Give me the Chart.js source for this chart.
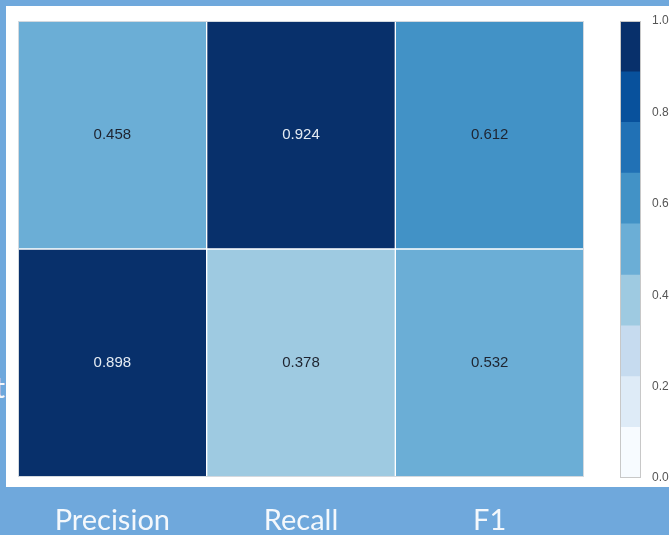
<!DOCTYPE html>
<html>
<head>
<meta charset="utf-8">
<script src="https://cdn.jsdelivr.net/npm/chart.js@4.4.1/dist/chart.umd.min.js"></script>
<style>
  html, body { margin: 0; padding: 0; }
  body { width: 669px; height: 535px; background: #6fa8dc; position: relative; overflow: hidden; }
  #panel { position: absolute; left: 6px; top: 6px; width: 663px; height: 481px; background: #ffffff; }
  #heat { position: absolute; left: 0; top: 0; }
  #cbar { position: absolute; left: 600px; top: 0; }
  #rowTail { position: absolute; right: 664px; top: 372px; color: #f4f8fc;
             font: 29px Lato, "Open Sans", sans-serif; line-height: 1; }
</style>
</head>
<body>
<div id="panel"></div>
<span id="rowTail">t</span>
<canvas id="heat" width="600" height="535"></canvas>
<canvas id="cbar" width="69" height="535"></canvas>
<script>
// Metric names along the bottom
const metrics = ['Precision', 'Recall', 'F1'];
// Scores for the two rows of the matrix (top row first)
const topRow = [0.458, 0.924, 0.612];
const bottomRow = [0.898, 0.378, 0.532];
// Discrete "Blues" palette (9 steps, 0 → 1)
const blues = ['#f7fbff', '#deebf7', '#c6dbef', '#9ecae1', '#6baed6',
               '#4292c6', '#2171b5', '#08519c', '#08306b'];
// Colour-bar step edges and tick labels
const colorbarEdges = [0, 0.111, 0.222, 0.333, 0.444, 0.556, 0.667, 0.778, 0.889, 1.0];
const colorbarTicks = [0.0, 0.2, 0.4, 0.6, 0.8, 1.0];

function colourFor(v) {
  let i = Math.floor(v * blues.length);
  if (i >= blues.length) i = blues.length - 1;
  if (i < 0) i = 0;
  return blues[i];
}

// Each row is one stacked segment of unit height; the score sets its colour
function rowDataset(scores, label) {
  return {
    label: label,
    data: scores.map(() => 1),
    scores: scores,
    backgroundColor: scores.map(colourFor),
    borderColor: '#ffffff',
    borderWidth: 1,
    borderSkipped: false,
    barPercentage: 1,
    categoryPercentage: 1
  };
}

const cellLabels = {
  id: 'cellLabels',
  afterDatasetsDraw(chart) {
    const ctx = chart.ctx;
    ctx.save();
    ctx.font = '15px "Liberation Sans", Arial, sans-serif';
    ctx.textAlign = 'center';
    ctx.textBaseline = 'middle';
    chart.data.datasets.forEach((ds, di) => {
      chart.getDatasetMeta(di).data.forEach((bar, i) => {
        const v = ds.scores[i];
        const p = bar.getProps(['x', 'y', 'base'], true);
        ctx.fillStyle = v > 0.7 ? '#e4ebf3' : '#1e2430';
        ctx.fillText(v.toFixed(3), p.x, (p.y + p.base) / 2);
      });
    });
    ctx.restore();
  }
};

const frame = {
  id: 'frame',
  afterDraw(chart, args, opts) {
    const a = chart.chartArea, ctx = chart.ctx;
    ctx.save();
    ctx.strokeStyle = opts.color || '#cfd6dd';
    ctx.lineWidth = 1;
    ctx.strokeRect(a.left + 0.5, a.top + 0.5, a.right - a.left - 1, a.bottom - a.top - 1);
    ctx.restore();
  }
};

new Chart(document.getElementById('heat'), {
  type: 'bar',
  data: {
    labels: metrics,
    datasets: [rowDataset(bottomRow, 'row 2'), rowDataset(topRow, 'row 1')]
  },
  options: {
    responsive: false,
    animation: false,
    layout: { padding: { left: 18, top: 21, right: 16, bottom: 0 } },
    plugins: { legend: { display: false }, tooltip: { enabled: false }, frame: { color: '#d3d9df' } },
    scales: {
      x: {
        stacked: true,
        grid: { display: false, drawTicks: false },
        border: { display: false },
        ticks: { color: '#f4f8fc', padding: 26, font: { family: 'Lato, "Open Sans", sans-serif', size: 29 } },
        afterFit(scale) { scale.height = 58; }
      },
      y: { stacked: true, min: 0, max: 2, display: false }
    }
  },
  plugins: [cellLabels, frame]
});

// Colour bar: one floating segment per palette step
const cbarSets = blues.map((c, i) => ({
  data: [[colorbarEdges[i], colorbarEdges[i + 1]]],
  backgroundColor: c,
  borderWidth: 0,
  barPercentage: 1,
  categoryPercentage: 1,
  grouped: false
}));

new Chart(document.getElementById('cbar'), {
  type: 'bar',
  data: { labels: [''], datasets: cbarSets },
  options: {
    responsive: false,
    animation: false,
    layout: { padding: { left: 20, top: 21, right: 0, bottom: 57 } },
    plugins: { legend: { display: false }, tooltip: { enabled: false }, frame: { color: '#c8c8c8' } },
    scales: {
      x: { display: false },
      y: {
        position: 'right',
        min: 0, max: 1,
        grid: { display: false, drawTicks: false },
        border: { display: false },
        afterBuildTicks(scale) { scale.ticks = colorbarTicks.map(v => ({ value: v })); },
        afterFit(scale) { scale.width = 28; },
        ticks: {
          padding: 11,
          color: '#555555',
          font: { family: '"Liberation Sans", Arial, sans-serif', size: 12 },
          callback: v => Number(v).toFixed(1)
        }
      }
    }
  },
  plugins: [frame]
});
</script>
</body>
</html>
